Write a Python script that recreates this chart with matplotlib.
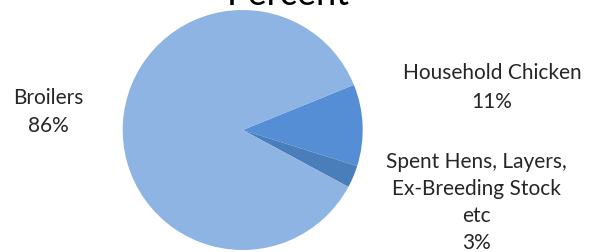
import matplotlib.pyplot as plt

labels = ["Household Chicken", "Spent Hens, Layers,\nEx-Breeding Stock\netc", "Broilers"]
values = [11, 3, 86]
colors = ["#558ED5", "#4A7EBB", "#8EB4E3"]

W, H = 589, 253
fig = plt.figure(figsize=(W / 100, H / 100), dpi=100)
plt.rcParams["font.family"] = ["Lato", "DejaVu Sans"]

cx, cy, r = 242.7, 131, 120
ax = fig.add_axes([(cx - r) / W, (H - cy - r) / H, 2 * r / W, 2 * r / H])
ax.pie(values, colors=colors, startangle=22.1, counterclock=False,
       wedgeprops={"linewidth": 0})
ax.set_xlim(-1, 1)
ax.set_ylim(-1, 1)
ax.axis("off")

fig.text(288 / W, 1 - 5 / H, "Percent", ha="center", va="baseline", fontsize=26, color="#000000")

# label positions in pixels (x centre, y of first line centre, line spacing)
label_pos = [(492, 73, 1.58), (476.5, 162, 1.43), (48, 98, 1.53)]
for lab, val, (x, y, ls) in zip(labels, values, label_pos):
    fig.text(x / W, 1 - (y - 10) / H, f"{lab}\n{val}%", ha="center", va="top",
             fontsize=15, color="#262626", linespacing=ls)

fig.savefig("out.png", dpi=100)
